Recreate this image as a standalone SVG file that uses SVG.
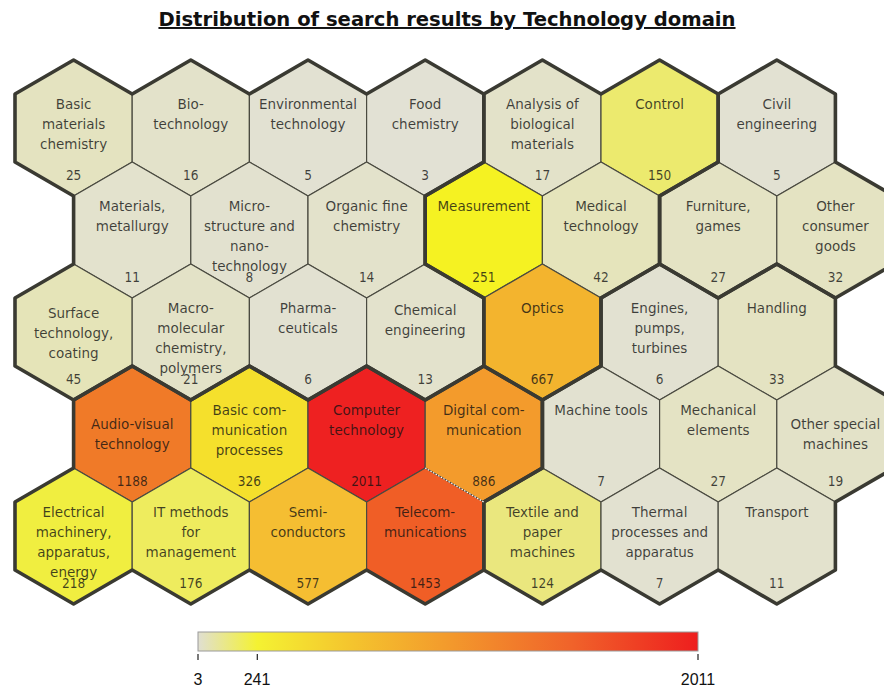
<svg xmlns="http://www.w3.org/2000/svg" width="884" height="689" viewBox="0 0 884 689">
<style>
.hex{stroke:#4a4a40;stroke-width:1.2;stroke-linejoin:round}
.grp{fill:none;stroke:#3a3a32;stroke-width:3.6;stroke-linejoin:round}
.t{font-family:"DejaVu Sans",sans-serif;font-size:13.5px;text-anchor:middle;fill:#111;fill-opacity:.78}
.n{font-family:"DejaVu Sans Condensed","DejaVu Sans",sans-serif;font-stretch:condensed;font-size:13.5px;text-anchor:middle;fill:#111;fill-opacity:.78}
.lg{font-family:"Liberation Sans",Arial,sans-serif;font-size:16px;text-anchor:middle;fill:#111}
</style>
<defs>
<polygon id="hx" points="0,-68 58.6,-34 58.6,34 0,68 -58.6,34 -58.6,-34"/>
<linearGradient id="grad" x1="0" y1="0" x2="1" y2="0">
<stop offset="0" stop-color="#e0dfd2"/>
<stop offset="0.1185" stop-color="#f4f232"/>
<stop offset="0.3" stop-color="#f4c62e"/>
<stop offset="0.5" stop-color="#f39a2c"/>
<stop offset="0.75" stop-color="#f0622a"/>
<stop offset="1" stop-color="#ee1e1e"/>
</linearGradient>
</defs>
<rect width="884" height="689" fill="#fff"/>
<text x="447" y="26" font-family="DejaVu Sans,sans-serif" font-weight="bold" font-size="19.6" text-anchor="middle" text-decoration="underline" fill="#111">Distribution of search results by Technology domain</text>

<!-- Row 0 -->
<g id="basic-materials-chemistry" transform="translate(73.6,128)"><use href="#hx" class="hex" fill="#e4e3c0"/><text class="t" y="-19">Basic</text><text class="t" y="1">materials</text><text class="t" y="21">chemistry</text><text class="n" y="52">25</text></g>
<g id="biotechnology" transform="translate(190.8,128)"><use href="#hx" class="hex" fill="#e3e2ca"/><text class="t" y="-19">Bio-</text><text class="t" y="1">technology</text><text class="n" y="52">16</text></g>
<g id="environmental-technology" transform="translate(308,128)"><use href="#hx" class="hex" fill="#e2e1d2"/><text class="t" y="-19">Environmental</text><text class="t" y="1">technology</text><text class="n" y="52">5</text></g>
<g id="food-chemistry" transform="translate(425.2,128)"><use href="#hx" class="hex" fill="#e2e1d4"/><text class="t" y="-19">Food</text><text class="t" y="1">chemistry</text><text class="n" y="52">3</text></g>
<g id="analysis-biological-materials" transform="translate(542.4,128)"><use href="#hx" class="hex" fill="#e3e2c9"/><text class="t" y="-19">Analysis of</text><text class="t" y="1">biological</text><text class="t" y="21">materials</text><text class="n" y="52">17</text></g>
<g id="control" transform="translate(659.6,128)"><use href="#hx" class="hex" fill="#ecea6e"/><text class="t" y="-19">Control</text><text class="n" y="52">150</text></g>
<g id="civil-engineering" transform="translate(776.8,128)"><use href="#hx" class="hex" fill="#e2e1d2"/><text class="t" y="-19">Civil</text><text class="t" y="1">engineering</text><text class="n" y="52">5</text></g>

<!-- Row 1 -->
<g id="materials-metallurgy" transform="translate(132.2,230)"><use href="#hx" class="hex" fill="#e3e2cd"/><text class="t" y="-19">Materials,</text><text class="t" y="1">metallurgy</text><text class="n" y="52">11</text></g>
<g id="microstructure-nanotechnology" transform="translate(249.4,230)"><use href="#hx" class="hex" fill="#e2e1cf"/><text class="t" y="-19">Micro-</text><text class="t" y="1">structure and</text><text class="t" y="21">nano-</text><text class="t" y="41">technology</text><text class="n" y="52">8</text></g>
<g id="organic-fine-chemistry" transform="translate(366.6,230)"><use href="#hx" class="hex" fill="#e3e2cb"/><text class="t" y="-19">Organic fine</text><text class="t" y="1">chemistry</text><text class="n" y="52">14</text></g>
<g id="measurement" transform="translate(483.8,230)"><use href="#hx" class="hex" fill="#f5f222"/><text class="t" y="-19">Measurement</text><text class="n" y="52">251</text></g>
<g id="medical-technology" transform="translate(601,230)"><use href="#hx" class="hex" fill="#e5e4bb"/><text class="t" y="-19">Medical</text><text class="t" y="1">technology</text><text class="n" y="52">42</text></g>
<g id="furniture-games" transform="translate(718.2,230)"><use href="#hx" class="hex" fill="#e4e3c4"/><text class="t" y="-19">Furniture,</text><text class="t" y="1">games</text><text class="n" y="52">27</text></g>
<g id="other-consumer-goods" transform="translate(835.4,230)"><use href="#hx" class="hex" fill="#e4e3c2"/><text class="t" y="-19">Other</text><text class="t" y="1">consumer</text><text class="t" y="21">goods</text><text class="n" y="52">32</text></g>

<!-- Row 2 -->
<g id="surface-technology-coating" transform="translate(73.6,332)"><use href="#hx" class="hex" fill="#e5e4b8"/><text class="t" y="-14">Surface</text><text class="t" y="6">technology,</text><text class="t" y="26">coating</text><text class="n" y="52">45</text></g>
<g id="macromolecular-chemistry-polymers" transform="translate(190.8,332)"><use href="#hx" class="hex" fill="#e3e2c7"/><text class="t" y="-19">Macro-</text><text class="t" y="1">molecular</text><text class="t" y="21">chemistry,</text><text class="t" y="41">polymers</text><text class="n" y="52">21</text></g>
<g id="pharmaceuticals" transform="translate(308,332)"><use href="#hx" class="hex" fill="#e2e1d1"/><text class="t" y="-19">Pharma-</text><text class="t" y="1">ceuticals</text><text class="n" y="52">6</text></g>
<g id="chemical-engineering" transform="translate(425.2,332)"><use href="#hx" class="hex" fill="#e3e2cc"/><text class="t" y="-17">Chemical</text><text class="t" y="3">engineering</text><text class="n" y="52">13</text></g>
<g id="optics" transform="translate(542.4,332)"><use href="#hx" class="hex" fill="#f3b42e"/><text class="t" y="-19">Optics</text><text class="n" y="52">667</text></g>
<g id="engines-pumps-turbines" transform="translate(659.6,332)"><use href="#hx" class="hex" fill="#e2e1d1"/><text class="t" y="-19">Engines,</text><text class="t" y="1">pumps,</text><text class="t" y="21">turbines</text><text class="n" y="52">6</text></g>
<g id="handling" transform="translate(776.8,332)"><use href="#hx" class="hex" fill="#e4e3c2"/><text class="t" y="-19">Handling</text><text class="n" y="52">33</text></g>

<!-- Row 3 -->
<g id="audio-visual-technology" transform="translate(132.2,434)"><use href="#hx" class="hex" fill="#f07a28"/><text class="t" y="-5">Audio-visual</text><text class="t" y="15">technology</text><text class="n" y="52">1188</text></g>
<g id="basic-communication-processes" transform="translate(249.4,434)"><use href="#hx" class="hex" fill="#f5e02c"/><text class="t" y="-19">Basic com-</text><text class="t" y="1">munication</text><text class="t" y="21">processes</text><text class="n" y="52">326</text></g>
<g id="computer-technology" transform="translate(366.6,434)"><use href="#hx" class="hex" fill="#ee2121"/><text class="t" y="-19">Computer</text><text class="t" y="1">technology</text><text class="n" y="52">2011</text></g>
<g id="digital-communication" transform="translate(483.8,434)"><use href="#hx" class="hex" fill="#f39b2c"/><text class="t" y="-19">Digital com-</text><text class="t" y="1">munication</text><text class="n" y="52">886</text></g>
<g id="machine-tools" transform="translate(601,434)"><use href="#hx" class="hex" fill="#e2e1d0"/><text class="t" y="-19">Machine tools</text><text class="n" y="52">7</text></g>
<g id="mechanical-elements" transform="translate(718.2,434)"><use href="#hx" class="hex" fill="#e4e3c4"/><text class="t" y="-19">Mechanical</text><text class="t" y="1">elements</text><text class="n" y="52">27</text></g>
<g id="other-special-machines" transform="translate(835.4,434)"><use href="#hx" class="hex" fill="#e3e2c8"/><text class="t" y="-5">Other special</text><text class="t" y="15">machines</text><text class="n" y="52">19</text></g>

<!-- Row 4 -->
<g id="electrical-machinery-apparatus-energy" transform="translate(73.6,536)"><use href="#hx" class="hex" fill="#f0ee40"/><text class="t" y="-19">Electrical</text><text class="t" y="1">machinery,</text><text class="t" y="21">apparatus,</text><text class="t" y="41">energy</text><text class="n" y="52">218</text></g>
<g id="it-methods-for-management" transform="translate(190.8,536)"><use href="#hx" class="hex" fill="#eeec5e"/><text class="t" y="-19">IT methods</text><text class="t" y="1">for</text><text class="t" y="21">management</text><text class="n" y="52">176</text></g>
<g id="semiconductors" transform="translate(308,536)"><use href="#hx" class="hex" fill="#f5be32"/><text class="t" y="-19">Semi-</text><text class="t" y="1">conductors</text><text class="n" y="52">577</text></g>
<g id="telecommunications" transform="translate(425.2,536)"><use href="#hx" class="hex" fill="#f05e26"/><text class="t" y="-19">Telecom-</text><text class="t" y="1">munications</text><text class="n" y="52">1453</text></g>
<g id="textile-paper-machines" transform="translate(542.4,536)"><use href="#hx" class="hex" fill="#eae77e"/><text class="t" y="-19">Textile and</text><text class="t" y="1">paper</text><text class="t" y="21">machines</text><text class="n" y="52">124</text></g>
<g id="thermal-processes-apparatus" transform="translate(659.6,536)"><use href="#hx" class="hex" fill="#e2e1d0"/><text class="t" y="-19">Thermal</text><text class="t" y="1">processes and</text><text class="t" y="21">apparatus</text><text class="n" y="52">7</text></g>
<g id="transport" transform="translate(776.8,536)"><use href="#hx" class="hex" fill="#e3e2cd"/><text class="t" y="-19">Transport</text><text class="n" y="52">11</text></g>

<!-- Domain boundaries (connectors group) -->
<g id="connectors">
<path class="grp" d="M15,94 L73.6,60 L132.2,94 L190.8,60 L249.4,94 L308,60 L366.6,94 L425.2,60 L483.8,94 L483.8,162 L425.2,196 L425.2,264 L483.8,298 L483.8,366 L425.2,400 L366.6,366 L308,400 L249.4,366 L190.8,400 L132.2,366 L73.6,400 L15,366 L15,298 L73.6,264 L73.6,196 L15,162 Z"/>
<path class="grp" d="M483.8,94 L542.4,60 L601,94 L659.6,60 L718.2,94 L718.2,162 L659.6,196 L659.6,264 L601,298 L601,366 L542.4,400 L483.8,366 L483.8,298 L425.2,264 L425.2,196 L483.8,162 Z"/>
<path class="grp" d="M718.2,94 L776.8,60 L835.4,94 L835.4,162 L894,196 L894,264 L835.4,298 L776.8,264 L718.2,298 L659.6,264 L659.6,196 L718.2,162 Z"/>
<path class="grp" d="M601,298 L659.6,264 L718.2,298 L776.8,264 L835.4,298 L835.4,366 L894,400 L894,468 L835.4,502 L835.4,570 L776.8,604 L718.2,570 L659.6,604 L601,570 L542.4,604 L483.8,570 L483.8,502 L542.4,468 L542.4,400 L601,366 Z"/>
<path class="grp" d="M73.6,400 L132.2,366 L190.8,400 L249.4,366 L308,400 L366.6,366 L425.2,400 L483.8,366 L542.4,400 L542.4,468 L483.8,502 L483.8,570 L425.2,604 L366.6,570 L308,604 L249.4,570 L190.8,604 L132.2,570 L73.6,604 L15,570 L15,502 L73.6,468 Z"/>
<path d="M425.2,468 L483.8,502" stroke="#ffffff" stroke-width="1.2" stroke-dasharray="1.5 1.5" fill="none"/>
</g>

<!-- Legend -->
<g id="legend">
<rect x="198" y="632" width="500" height="19" fill="url(#grad)" stroke="#9a9a9a" stroke-width="1"/>
<path d="M198,654 V660 M257.3,654 V660 M698,654 V660" stroke="#222" stroke-width="1.2"/>
<text class="lg" x="198" y="685">3</text>
<text class="lg" x="257" y="685">241</text>
<text class="lg" x="698" y="685">2011</text>
</g>
</svg>
